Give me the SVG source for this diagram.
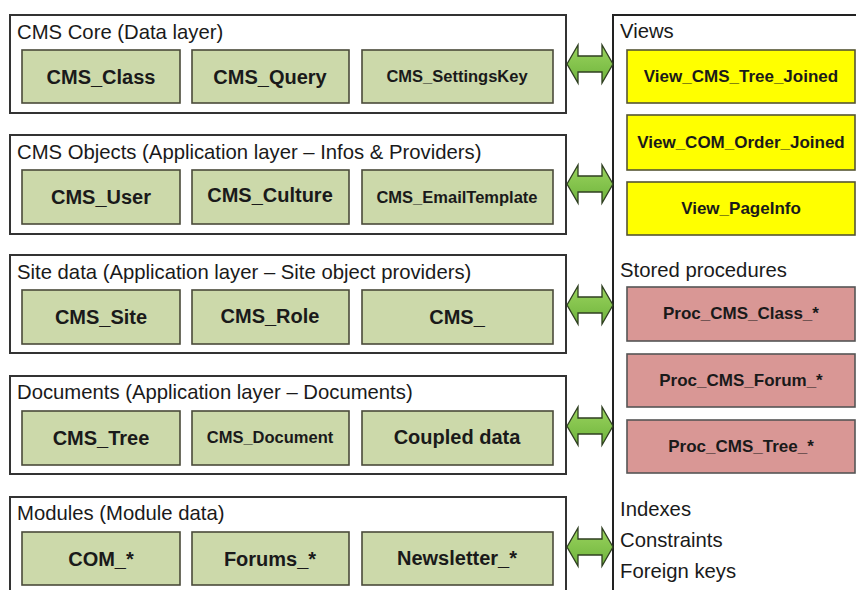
<svg xmlns="http://www.w3.org/2000/svg" xmlns:xlink="http://www.w3.org/1999/xlink" width="856" height="590" viewBox="0 0 856 590">
<defs>
<linearGradient id="ag" x1="0" y1="0" x2="0" y2="1">
<stop offset="0" stop-color="#9ad35e"/>
<stop offset="1" stop-color="#6fb43c"/>
</linearGradient>
<path id="arr" d="M567,0 L578,-19 L578,-8 L602,-8 L602,-19 L613,0 L602,19 L602,8 L578,8 L578,19 Z"/>
</defs>
<style>
text{font-family:"Liberation Sans",Arial,Helvetica,sans-serif;fill:#1a1a1a}
.grp{fill:#fff;stroke:#333;stroke-width:2}
.ttl{font-size:20.3px}
.tb{fill:#ccd9aa;stroke:#4a4a3a;stroke-width:1.6}
.lb{font-size:20px;font-weight:bold;text-anchor:middle}
.ls{font-size:16.5px;font-weight:bold;text-anchor:middle}
.vw{fill:#ffff00;stroke:#555533;stroke-width:1.6}
.pr{fill:#d99795;stroke:#555;stroke-width:1.6}
.rl{font-size:17px;font-weight:bold;text-anchor:middle}
.ar{fill:url(#ag);stroke:#2f3f20;stroke-width:1.3}
</style>
<rect width="856" height="590" fill="#fff"/>

<g id="panel">
<rect x="613" y="15" width="260" height="600" fill="#fff" stroke="#222" stroke-width="2"/>
<text x="620" y="38" class="ttl">Views</text>
<text x="620" y="277" class="ttl">Stored procedures</text>
<text x="620" y="516" class="ttl">Indexes</text>
<text x="620" y="547" class="ttl">Constraints</text>
<text x="620" y="578" class="ttl">Foreign keys</text>
</g>
<g id="view1"><rect x="627" y="50" width="228" height="53" class="vw"/><text x="741" y="82" class="rl">View_CMS_Tree_Joined</text></g>
<g id="view2"><rect x="627" y="115" width="228" height="55" class="vw"/><text x="741" y="148" class="rl">View_COM_Order_Joined</text></g>
<g id="view3"><rect x="627" y="182" width="228" height="53" class="vw"/><text x="741" y="214" class="rl">View_PageInfo</text></g>
<g id="proc1"><rect x="627" y="287" width="228" height="54" class="pr"/><text x="741" y="319" class="rl">Proc_CMS_Class_*</text></g>
<g id="proc2"><rect x="627" y="354" width="228" height="53" class="pr"/><text x="741" y="386" class="rl">Proc_CMS_Forum_*</text></g>
<g id="proc3"><rect x="627" y="420" width="228" height="53" class="pr"/><text x="741" y="452" class="rl">Proc_CMS_Tree_*</text></g>

<g id="core">
<rect x="10" y="15" width="556" height="98" class="grp"/>
<text x="17" y="39" class="ttl">CMS Core (Data layer)</text>
<rect x="22" y="50" width="158" height="53" class="tb"/><text x="101" y="84" class="lb">CMS_Class</text>
<rect x="192" y="50" width="157" height="53" class="tb"/><text x="270" y="84" class="lb">CMS_Query</text>
<rect x="362" y="50" width="191" height="53" class="tb"/><text x="457" y="82" class="ls">CMS_SettingsKey</text>
</g>

<g id="objects">
<rect x="10" y="135" width="556" height="99" class="grp"/>
<text x="17" y="159" class="ttl">CMS Objects (Application layer – Infos &amp; Providers)</text>
<rect x="22" y="170" width="158" height="54" class="tb"/><text x="101" y="204" class="lb">CMS_User</text>
<rect x="192" y="170" width="157" height="54" class="tb"/><text x="270" y="202" class="lb">CMS_Culture</text>
<rect x="362" y="170" width="191" height="54" class="tb"/><text x="457" y="203" class="ls">CMS_EmailTemplate</text>
</g>

<g id="site">
<rect x="10" y="255" width="556" height="98" class="grp"/>
<text x="17" y="279" class="ttl">Site data (Application layer – Site object providers)</text>
<rect x="22" y="290" width="158" height="54" class="tb"/><text x="101" y="324" class="lb">CMS_Site</text>
<rect x="192" y="290" width="157" height="54" class="tb"/><text x="270" y="323" class="lb">CMS_Role</text>
<rect x="362" y="290" width="191" height="54" class="tb"/><text x="457" y="324" class="lb">CMS_</text>
</g>

<g id="documents">
<rect x="10" y="376" width="556" height="98" class="grp"/>
<text x="17" y="399" class="ttl">Documents (Application layer – Documents)</text>
<rect x="22" y="411" width="158" height="54" class="tb"/><text x="101" y="445" class="lb">CMS_Tree</text>
<rect x="192" y="411" width="157" height="54" class="tb"/><text x="270" y="443" class="ls">CMS_Document</text>
<rect x="362" y="411" width="191" height="54" class="tb"/><text x="457" y="444" class="lb">Coupled data</text>
</g>

<g id="modules">
<rect x="10" y="497" width="556" height="110" class="grp"/>
<text x="17" y="520" class="ttl">Modules (Module data)</text>
<rect x="22" y="532" width="158" height="53" class="tb"/><text x="101" y="566" class="lb">COM_*</text>
<rect x="192" y="532" width="157" height="53" class="tb"/><text x="270" y="566" class="lb">Forums_*</text>
<rect x="362" y="532" width="191" height="53" class="tb"/><text x="457" y="565" class="lb">Newsletter_*</text>
</g>

<g id="connectors">
<use xlink:href="#arr" href="#arr" class="ar" transform="translate(0,64)"/>
<use xlink:href="#arr" href="#arr" class="ar" transform="translate(0,184)"/>
<use xlink:href="#arr" href="#arr" class="ar" transform="translate(0,305)"/>
<use xlink:href="#arr" href="#arr" class="ar" transform="translate(0,426)"/>
<use xlink:href="#arr" href="#arr" class="ar" transform="translate(0,547)"/>
</g>
</svg>
